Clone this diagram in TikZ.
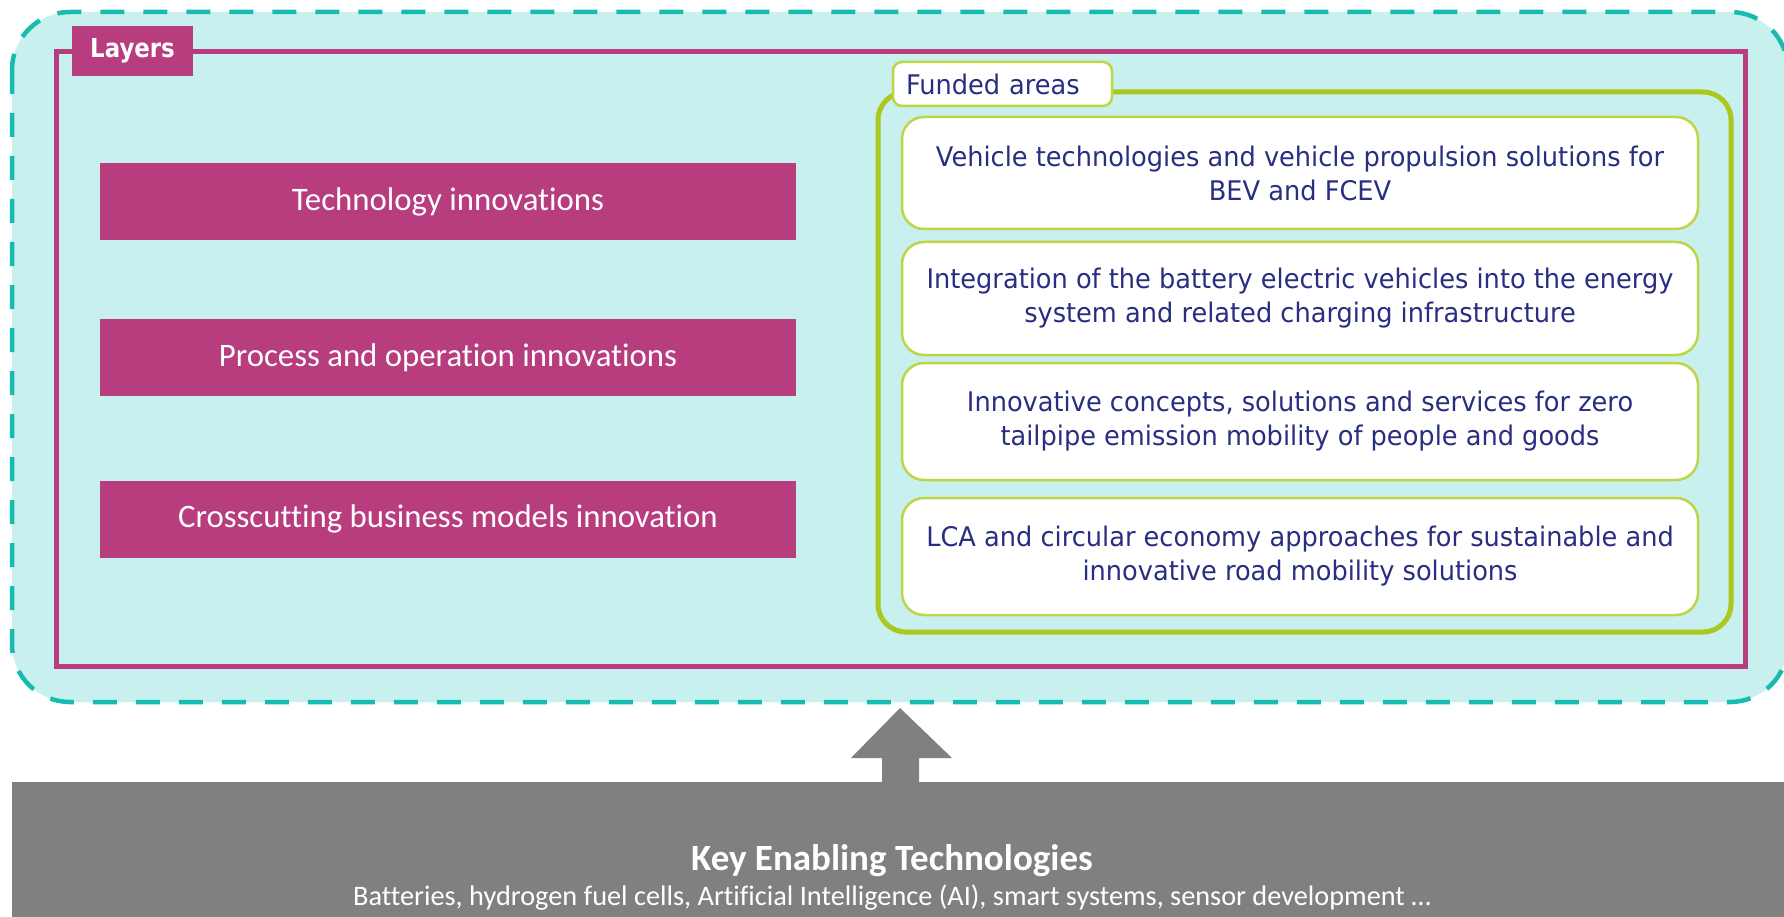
\documentclass[tikz,border=0pt]{standalone}
\usepackage{fontspec}
\newfontfamily\navyfont[FakeStretch=0.95]{DejaVu Sans}
\newfontfamily\tagfont[FakeStretch=0.88]{DejaVu Sans}
\newfontfamily\calfont[Ligatures=NoCommon]{Carlito}
\definecolor{teal}{RGB}{22,188,176}
\definecolor{paleteal}{RGB}{200,240,238}
\definecolor{magenta}{RGB}{184,61,126}
\definecolor{lime}{RGB}{170,200,30}
\definecolor{limelight}{RGB}{190,214,70}
\definecolor{navy}{RGB}{40,46,128}
\definecolor{barGrey}{RGB}{128,128,128}
\tikzset{
  pinkbox/.style={fill=magenta, draw=none, minimum width=696pt, minimum height=77pt,
    inner sep=0pt, text=white, font=\calfont\fontsize{32.8}{38}\selectfont},
  fundbox/.style={fill=white, draw=limelight, line width=2.5pt, rounded corners=22pt,
    minimum width=796pt, inner sep=0pt, align=center, text=navy,
    font=\navyfont\fontsize{27}{34}\selectfont},
}
\begin{document}
\begin{tikzpicture}[x=1pt,y=-1pt]
\useasboundingbox (0,0) rectangle (1784,917);
% outer dashed region
\draw[fill=paleteal, draw=teal, line width=4.5pt, dash pattern=on 24pt off 19pt, rounded corners=58pt]
  (12,12) rectangle (1788,702);
% layers frame
\draw[magenta, line width=5pt] (56,52) rectangle (1745,666);
\node[fill=magenta, minimum width=121pt, minimum height=50pt, inner sep=0pt, text=white,
  font=\tagfont\bfseries\fontsize{26}{30}\selectfont] (layers) at (132.5,51) {Layers};
% pink boxes
\node[pinkbox] (tech) at (448,201.5) {Technology innovations};
\node[pinkbox] (proc) at (448,357.5) {Process and operation innovations};
\node[pinkbox] (cross) at (448,519) {Crosscutting business models innovation};
% funded areas frame
\draw[lime, line width=5pt, rounded corners=28pt] (878,92) rectangle (1731,632);
\node[fill=white, draw=limelight, line width=2.5pt, rounded corners=9pt, minimum width=219pt,
  minimum height=44pt, inner sep=0pt, text width=193pt, align=left, text=navy,
  font=\navyfont\fontsize{27}{32}\selectfont]
  (funded) at (1002.5,84) {Funded areas};
\node[fundbox, minimum height=112pt] (f1) at (1300,173)
  {Vehicle technologies and vehicle propulsion solutions for\\BEV and FCEV};
\node[fundbox, minimum height=113pt] (f2) at (1300,298.5)
  {Integration of the battery electric vehicles into the energy\\system and related charging infrastructure};
\node[fundbox, minimum height=117pt] (f3) at (1300,421.5)
  {Innovative concepts, solutions and services for zero\\tailpipe emission mobility of people and goods};
\node[fundbox, minimum height=117pt] (f4) at (1300,556.5)
  {LCA and circular economy approaches for sustainable and\\innovative road mobility solutions};
% key enabling technologies bar
\fill[barGrey] (12,782) rectangle (1790,920);
\node[text=white, inner sep=0pt, anchor=base, font=\calfont\bfseries\fontsize{37}{40}\selectfont]
  (ket) at (892,870) {Key Enabling Technologies};
\node[text=white, inner sep=0pt, anchor=base, font=\calfont\fontsize{28.3}{32}\selectfont]
  (ketsub) at (892,905) {Batteries, hydrogen fuel cells, Artificial Intelligence (AI), smart systems, sensor development …};
% block arrow
\fill[barGrey] (882,783) -- (882,758) -- (851,758) -- (900,708) -- (952,758) -- (919,758) -- (919,783) -- cycle;
\end{tikzpicture}
\end{document}
